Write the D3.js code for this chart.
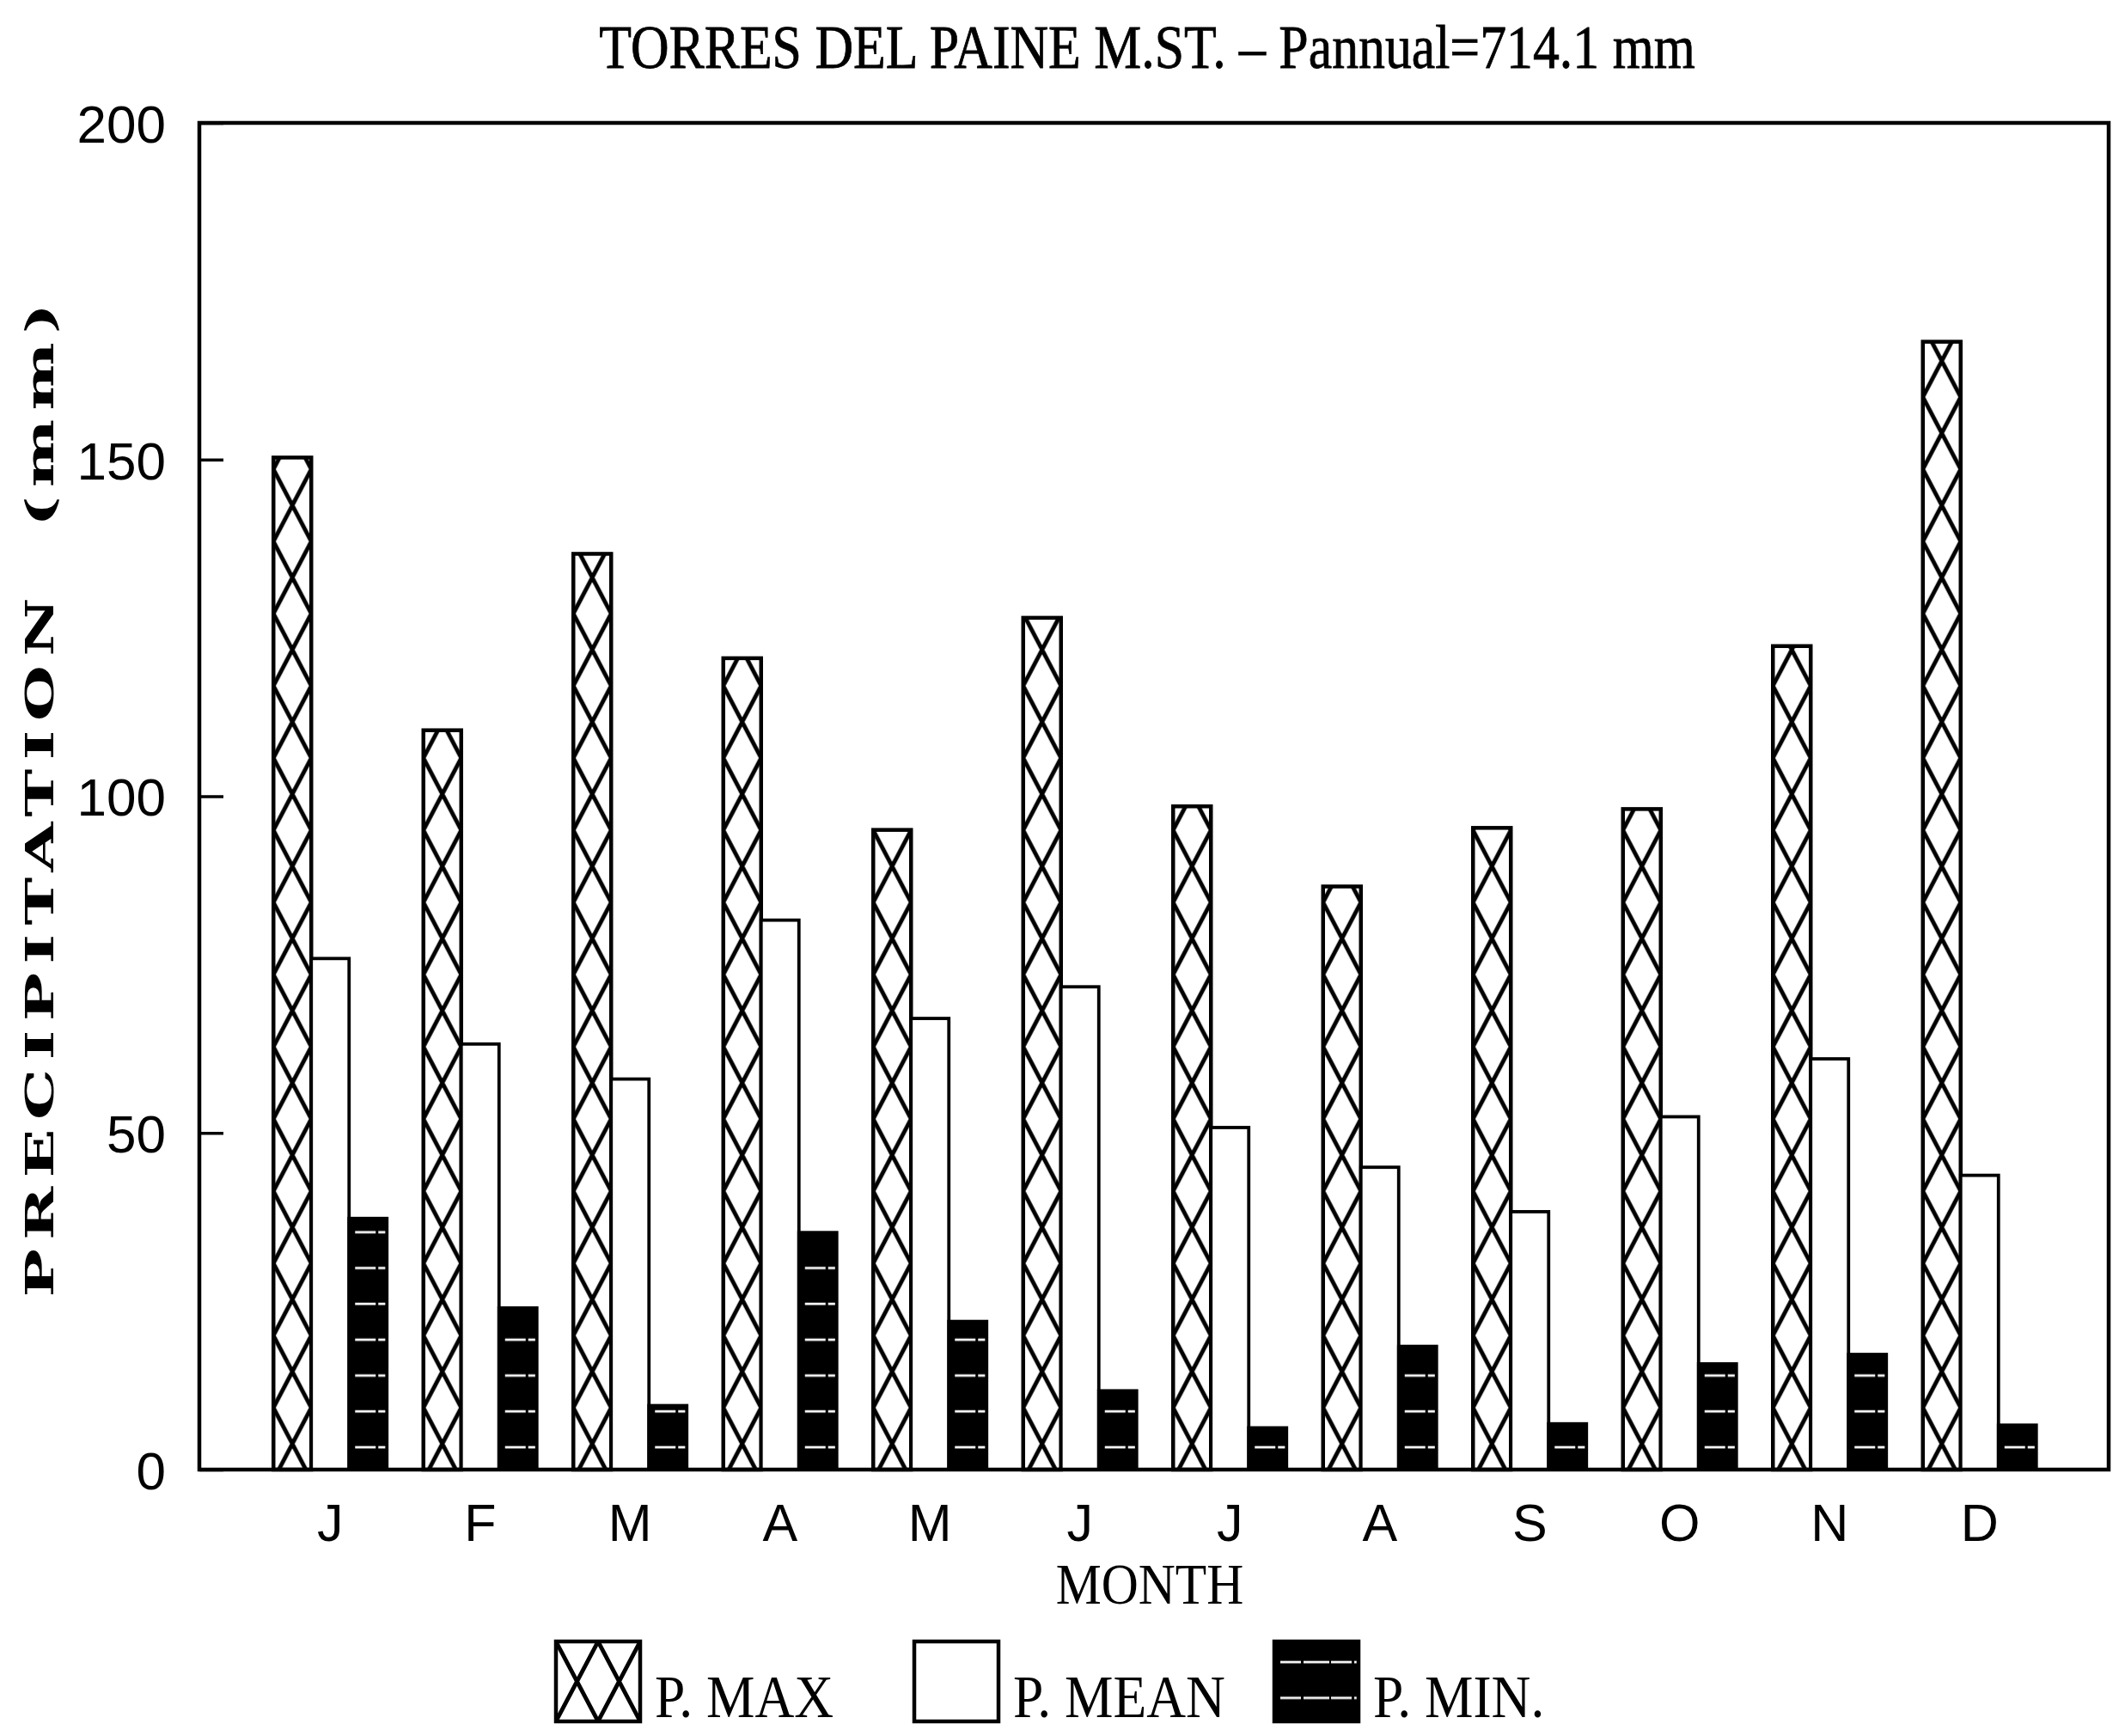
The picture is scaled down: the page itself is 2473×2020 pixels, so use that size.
<!DOCTYPE html>
<html><head><meta charset="utf-8">
<script src="https://cdn.jsdelivr.net/npm/d3@7"></script>
<style>html,body{margin:0;padding:0;background:#fff}</style>
</head><body>
<svg id="c" width="2473" height="2020"></svg>
<script>
// ---- data ----
const months = ["J","F","M","A","M","J","J","A","S","O","N","D"];
const pMax  = [150.3, 109.8, 136, 120.5, 95, 126.5, 98.5, 86.6, 95.3, 98.1, 122.3, 167.5];
const pMean = [75.9, 63.2, 58, 81.6, 67, 71.7, 50.8, 44.9, 38.3, 52.4, 61, 43.7];
const pMin  = [37.3, 24, 9.5, 35.2, 22, 11.7, 6.2, 18.3, 6.8, 15.7, 17.1, 6.6];
const seriesNames = ["P. MAX", "P. MEAN", "P. MIN."];
const yTicks = [0, 50, 100, 150, 200];
const titleText = "TORRES DEL PAINE M.ST. \u2013 Pannual=714.1 mm";
const xTitle = "MONTH";
const yTitle = "PRECIPITATION  (mm)";

// ---- layout ----
const svg = d3.select("#c");
const L = 232, R = 2454, T = 143, B = 1710;
const serif = "'Liberation Serif','Times New Roman',serif";
const sans = "'Liberation Sans',Arial,sans-serif";
const slab = "'DejaVu Serif','Courier New',serif";

const y = d3.scaleLinear().domain([0, 200]).range([B, T]);
const x0 = d3.scaleBand().domain(d3.range(months.length)).range([297, 2391]);
const x1 = d3.scaleBand().domain([0, 1, 2]).range([0, 132]);
const off = (x0.bandwidth() - 132) / 2;
const bw = x1.bandwidth();

const defs = svg.append("defs");
const hatchH = 84, hatchAnchor = B - 72;
const minStep = 41.7, minAnchor = B - 26;

function maxPattern(id, px, w, h, py) {
  const p = defs.append("pattern").attr("id", id).attr("patternUnits", "userSpaceOnUse")
    .attr("x", px).attr("y", py).attr("width", w).attr("height", h);
  p.append("rect").attr("width", w).attr("height", h).attr("fill", "#fff");
  p.append("path").attr("d", `M0,0L${w},${h}M${w},0L0,${h}`)
    .attr("stroke", "#000").attr("stroke-width", 4.8).attr("fill", "none");
}
function minPattern(id, px, w, py) {
  const p = defs.append("pattern").attr("id", id).attr("patternUnits", "userSpaceOnUse")
    .attr("x", px).attr("y", py - 20).attr("width", w).attr("height", minStep);
  p.append("rect").attr("width", w).attr("height", minStep).attr("fill", "#000");
  p.append("line").attr("x1", 7).attr("x2", w).attr("y1", 20).attr("y2", 20)
    .attr("stroke", "#fff").attr("stroke-width", 2.8).attr("stroke-dasharray", "24 3 30 2");
}

// ---- bars ----
const g = svg.append("g");
pMax.forEach((v, i) => maxPattern("hx" + i, x0(i) + off + x1(0), bw, hatchH, hatchAnchor));
pMin.forEach((v, i) => minPattern("mn" + i, x0(i) + off + x1(2), bw, minAnchor));

g.selectAll("rect.max").data(pMax).join("rect").attr("class", "max")
  .attr("x", (d, i) => x0(i) + off + x1(0)).attr("y", d => y(d))
  .attr("width", bw).attr("height", d => y(0) - y(d))
  .attr("fill", (d, i) => `url(#hx${i})`).attr("stroke", "#000").attr("stroke-width", 4.5);
g.selectAll("rect.mean").data(pMean).join("rect").attr("class", "mean")
  .attr("x", (d, i) => x0(i) + off + x1(1)).attr("y", d => y(d))
  .attr("width", bw).attr("height", d => y(0) - y(d))
  .attr("fill", "#fff").attr("stroke", "#000").attr("stroke-width", 3.8);
g.selectAll("rect.min").data(pMin).join("rect").attr("class", "min")
  .attr("x", (d, i) => x0(i) + off + x1(2)).attr("y", d => y(d))
  .attr("width", bw).attr("height", d => y(0) - y(d))
  .attr("fill", (d, i) => `url(#mn${i})`).attr("stroke", "#000").attr("stroke-width", 3.8);

// ---- frame ----
svg.append("rect").attr("x", L).attr("y", T).attr("width", R - L).attr("height", B - T)
  .attr("fill", "none").attr("stroke", "#000").attr("stroke-width", 4.5);

// ---- y axis ----
const ya = svg.append("g").attr("transform", `translate(${L},0)`)
  .call(d3.axisLeft(y).tickValues(yTicks).tickSizeInner(-28).tickSizeOuter(0).tickPadding(39));
ya.select(".domain").remove();
ya.selectAll(".tick line").attr("stroke", "#000").attr("stroke-width", 3.5);
ya.selectAll(".tick text").attr("font-family", sans).attr("font-size", 62).attr("fill", "#000")
  .attr("dy", "0.36em");

// ---- x axis ----
const xa = svg.append("g").attr("transform", `translate(0,${B})`)
  .call(d3.axisBottom(x0).tickFormat(i => months[i]).tickSize(0).tickPadding(0));
xa.select(".domain").remove();
xa.selectAll(".tick text").attr("font-family", sans).attr("font-size", 61).attr("fill", "#000")
  .attr("y", 83).attr("dy", 0);

// ---- titles ----
function condensed(sel, f) {
  sel.each(function () {
    const n = this.getComputedTextLength();
    d3.select(this).attr("textLength", n * f).attr("lengthAdjust", "spacingAndGlyphs");
  });
  return sel;
}
condensed(svg.append("text").attr("x", 1335).attr("y", 79).attr("text-anchor", "middle")
  .attr("font-family", serif).attr("font-size", 71).attr("stroke", "#000").attr("stroke-width", 0.8)
  .text(titleText), 0.87);
condensed(svg.append("text").attr("x", 1338).attr("y", 1866).attr("text-anchor", "middle")
  .attr("font-family", serif).attr("font-size", 67).text(xTitle), 0.89);
svg.append("text").attr("transform", "translate(62,926) rotate(-90)").attr("text-anchor", "middle")
  .attr("font-family", slab).attr("font-weight", "bold").attr("font-size", 44)
  .attr("letter-spacing", 6).style("white-space", "pre")
  .attr("textLength", 1167).attr("lengthAdjust", "spacingAndGlyphs").text(yTitle);

// ---- legend ----
const legX = [647, 1064, 1483], legW = 98, legTop = 1910, legH = 93;
const lg = svg.append("g");
maxPattern("hxLeg", legX[0], legW / 2, legH, legTop);
minPattern("mnLeg", legX[2], legW, legTop + 24);
const legFill = ["url(#hxLeg)", "#fff", "url(#mnLeg)"];
seriesNames.forEach((s, k) => {
  lg.append("rect").attr("x", legX[k]).attr("y", legTop).attr("width", legW).attr("height", legH)
    .attr("fill", legFill[k]).attr("stroke", "#000").attr("stroke-width", 4.5);
  condensed(lg.append("text").attr("x", legX[k] + legW + 17).attr("y", 1998)
    .attr("font-family", serif).attr("font-size", 69).text(s), 0.92);
});
</script>
</body></html>
